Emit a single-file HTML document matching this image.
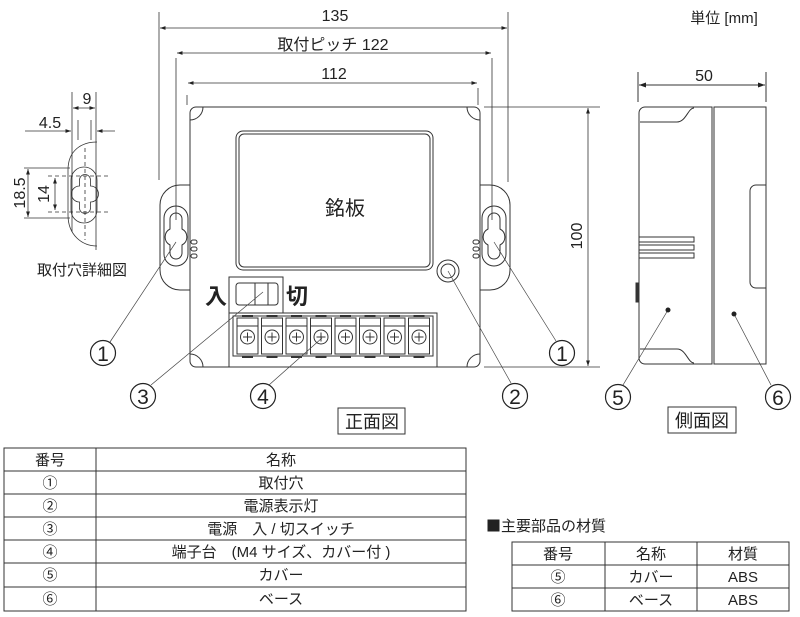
<!DOCTYPE html>
<html><head><meta charset="utf-8"><style>
html,body{margin:0;padding:0;background:#fff;}
svg{display:block;font-family:"Liberation Sans","Noto Sans CJK JP",sans-serif;}
</style></head><body>
<svg width="800" height="617" viewBox="0 0 800 617" xmlns="http://www.w3.org/2000/svg">
<defs>
<marker id="a" viewBox="0 0 10 10" refX="10" refY="5" markerWidth="7" markerHeight="7" orient="auto-start-reverse"><path d="M0,1.5 L10,5 L0,8.5z" fill="#222"/></marker>
<g id="kh">
<rect x="-12" y="-31" width="24" height="60" rx="12" fill="none" stroke="#333" stroke-width="1"/>
<path d="M-6,-18 A6,6 0 0 1 6,-18 L6,-8 A9,9 0 0 1 6,8 L6,16 A6,6 0 0 1 -6,16 L-6,8 A9,9 0 0 1 -6,-8 Z" fill="none" stroke="#333" stroke-width="1"/>
</g>
</defs>
<g stroke="#333" stroke-width="0.8" fill="none">
<line x1="159" y1="12" x2="159" y2="180"/><line x1="508" y1="12" x2="508" y2="182"/>
<line x1="160" y1="28" x2="507" y2="28" marker-start="url(#a)" marker-end="url(#a)"/>
<line x1="176" y1="58" x2="176" y2="220"/><line x1="492" y1="58" x2="492" y2="220"/>
<line x1="177" y1="53" x2="491" y2="53" marker-start="url(#a)" marker-end="url(#a)"/>
<line x1="187" y1="95" x2="187" y2="105"/><line x1="478" y1="88" x2="478" y2="105"/>
<line x1="188" y1="83" x2="477" y2="83" marker-start="url(#a)" marker-end="url(#a)"/>
<line x1="484" y1="107" x2="600" y2="107"/><line x1="484" y1="367" x2="600" y2="367"/>
<line x1="588" y1="108" x2="588" y2="366" marker-start="url(#a)" marker-end="url(#a)"/>
</g>
<g fill="#222" font-size="16" text-anchor="middle">
<text x="335" y="21">135</text>
<text x="333" y="50">取付ピッチ 122</text>
<text x="334" y="79">112</text>
<text x="724" y="23" font-size="15">単位 [mm]</text>
<text transform="translate(582,236) rotate(-90)">100</text>
<text x="704" y="81">50</text>
</g>
<g stroke="#333" stroke-width="1" fill="none">
<rect x="190" y="107" width="290" height="260" rx="6"/>
<path d="M190,120 A13,13 0 0 0 203,107"/><path d="M467,107 A13,13 0 0 0 480,120"/>
<path d="M190,354 A13,13 0 0 1 203,367"/><path d="M467,367 A13,13 0 0 1 480,354"/>
<rect x="236" y="131" width="197" height="139" rx="7"/>
<rect x="239" y="134" width="191" height="133" rx="5"/>
<path d="M190,185 L180,185 A20,20 0 0 0 160,205 L160,270 A20,20 0 0 0 180,290 L190,290"/>
<path d="M480,185 L490,185 A20,20 0 0 1 510,205 L510,270 A20,20 0 0 1 490,290 L480,290"/>
<use href="#kh" x="176" y="237"/><use href="#kh" x="494" y="237"/>
<rect x="191" y="240" width="6" height="4" rx="2"/><rect x="191" y="247" width="6" height="4" rx="2"/><rect x="191" y="254" width="6" height="4" rx="2"/>
<rect x="473" y="240" width="6" height="4" rx="2"/><rect x="473" y="247" width="6" height="4" rx="2"/><rect x="473" y="254" width="6" height="4" rx="2"/>
<circle cx="448" cy="271" r="11"/><circle cx="448" cy="271" r="7"/>
<path d="M229,313 L229,277 L283,277 L283,313"/>
<rect x="236" y="283" width="42" height="22" rx="3"/>
<line x1="255" y1="283" x2="255" y2="305"/><line x1="268" y1="283" x2="268" y2="305"/>
<rect x="229" y="313" width="208" height="54"/>
<rect x="233" y="316" width="200" height="40"/>
</g>
<g stroke="#333" stroke-width="1" fill="none">
<g id="t"><rect x="237" y="318" width="21" height="36"/><line x1="237" y1="326" x2="258" y2="326"/><circle cx="247.5" cy="337" r="7"/><path d="M243,337 h9 M247.5,332.5 v9"/><line x1="242" y1="357" x2="253" y2="357" stroke-width="2"/><line x1="242" y1="316" x2="253" y2="316" stroke-width="2"/></g>
<use href="#t" x="24.5"/><use href="#t" x="49"/><use href="#t" x="73.5"/><use href="#t" x="98"/><use href="#t" x="122.5"/><use href="#t" x="147"/><use href="#t" x="171.5"/>
</g>
<g font-size="22" font-weight="bold" fill="#222" text-anchor="middle">
<text x="216" y="304">入</text><text x="297" y="304">切</text>
</g>
<text x="345" y="215" font-size="20" text-anchor="middle" fill="#222">銘板</text>
<g stroke="#444" stroke-width="0.7" fill="none">
<line x1="176" y1="242" x2="110" y2="342"/>
<line x1="494" y1="242" x2="556" y2="341"/>
<line x1="448" y1="271" x2="511" y2="383"/>
<line x1="263" y1="292" x2="151" y2="385"/>
<line x1="322" y1="338" x2="269" y2="385"/>
<line x1="668" y1="310" x2="623" y2="385"/>
<line x1="734" y1="314" x2="771" y2="385"/>
</g>
<g stroke="#222" stroke-width="1.2" fill="#fff">
<circle cx="103" cy="353" r="12.5"/><circle cx="562" cy="353" r="12.5"/>
<circle cx="143" cy="396" r="12.5"/><circle cx="263" cy="396" r="12.5"/>
<circle cx="515" cy="396" r="12.5"/><circle cx="618" cy="397" r="12.5"/><circle cx="778" cy="397" r="12.5"/>
</g>
<g font-size="21" fill="#222" text-anchor="middle">
<text x="103" y="361">1</text><text x="562" y="361">1</text><text x="143" y="404">3</text><text x="263" y="404">4</text><text x="515" y="404">2</text><text x="618" y="405">5</text><text x="778" y="405">6</text>
</g>
<g stroke="#333" stroke-width="1" fill="none">
<line x1="638" y1="72" x2="638" y2="102"/><line x1="766" y1="72" x2="766" y2="102"/>
<line x1="639" y1="85" x2="765" y2="85" marker-start="url(#a)" marker-end="url(#a)"/>
<path d="M712,107 L645,107 A6,6 0 0 0 639,113 L639,358 A6,6 0 0 0 645,364 L712,364 Z"/>
<rect x="714" y="107" width="52" height="257"/>
<path d="M640,122 L677,122 C686,122 688,108 694,108"/>
<path d="M640,349 L677,349 C686,349 688,363 694,363"/>
<rect x="639" y="237" width="55" height="5"/><rect x="639" y="245" width="55" height="5"/><rect x="639" y="253" width="55" height="5"/>
<path d="M766,185 L756,185 A6,6 0 0 0 750,191 L750,282 A6,6 0 0 0 756,288 L766,288"/>
<rect x="636" y="283" width="2" height="19" fill="#333"/>
</g>
<circle cx="668" cy="310" r="2.5" fill="#222"/><circle cx="734" cy="314" r="2.5" fill="#222"/>
<g stroke="#333" stroke-width="1" fill="none">
<rect x="338" y="408" width="67" height="26"/><rect x="668" y="407" width="68" height="26"/>
</g>
<g font-size="18" fill="#222" text-anchor="middle">
<text x="372" y="428">正面図</text><text x="702" y="427">側面図</text>
</g>
<g stroke="#333" stroke-width="0.8" fill="none">
<line x1="72" y1="92" x2="72" y2="232"/><line x1="96" y1="92" x2="96" y2="250"/>
<line x1="78" y1="120" x2="78" y2="140"/><line x1="91" y1="120" x2="91" y2="140"/>
<line x1="73" y1="108" x2="95" y2="108" marker-start="url(#a)" marker-end="url(#a)"/>
<line x1="25" y1="131" x2="71" y2="131" marker-end="url(#a)"/>
<line x1="115" y1="131" x2="97" y2="131" marker-end="url(#a)"/>
<path d="M97,142 C82,142 68,150 68,170 L68,215 C68,235 82,246 97,246"/>
<rect x="71" y="167" width="26" height="56" rx="13"/>
<path d="M79.5,180 A5,5 0 0 1 90.5,180 L90.5,186 A8,8 0 0 1 90.5,202 L90.5,208 A5,5 0 0 1 79.5,208 L79.5,202 A8,8 0 0 1 79.5,186 Z"/>
<line x1="28" y1="169" x2="28" y2="217" marker-start="url(#a)" marker-end="url(#a)"/>
<line x1="55" y1="178" x2="55" y2="210" marker-start="url(#a)" marker-end="url(#a)"/>
<line x1="24" y1="168" x2="70" y2="168"/><line x1="24" y1="218" x2="70" y2="218"/>
<g stroke-dasharray="4,3"><line x1="48" y1="176" x2="110" y2="176"/><line x1="48" y1="212" x2="110" y2="212"/><line x1="85" y1="148" x2="85" y2="240"/></g>
</g>
<g fill="#222" font-size="16" text-anchor="middle">
<text x="87" y="104">9</text><text x="50" y="128">4.5</text>
<text transform="translate(25,193) rotate(-90)">18.5</text>
<text transform="translate(49,194) rotate(-90)">14</text>
<text x="82" y="275" font-size="15">取付穴詳細図</text>
</g>
<g stroke="#333" stroke-width="1" fill="none">
<rect x="4" y="448" width="462" height="163"/>
<line x1="96" y1="448" x2="96" y2="611"/>
<line x1="4" y1="471" x2="466" y2="471"/><line x1="4" y1="494" x2="466" y2="494"/><line x1="4" y1="517" x2="466" y2="517"/><line x1="4" y1="540" x2="466" y2="540"/><line x1="4" y1="563" x2="466" y2="563"/><line x1="4" y1="587" x2="466" y2="587"/>
</g>
<g fill="#222" font-size="15" text-anchor="middle">
<text x="50" y="465">番号</text><text x="281" y="465">名称</text>
<text x="50" y="488">①</text><text x="281" y="488">取付穴</text>
<text x="50" y="511">②</text><text x="281" y="511">電源表示灯</text>
<text x="50" y="534">③</text><text x="281" y="534">電源　入 / 切スイッチ</text>
<text x="50" y="557">④</text><text x="281" y="557">端子台　(M4 サイズ、カバー付 )</text>
<text x="50" y="580">⑤</text><text x="281" y="580">カバー</text>
<text x="50" y="604">⑥</text><text x="281" y="604">ベース</text>
</g>
<text x="486" y="531" font-size="15" fill="#222" font-family="Noto Sans CJK JP, sans-serif">■主要部品の材質</text>
<g stroke="#333" stroke-width="1" fill="none">
<rect x="512" y="542" width="277" height="69"/>
<line x1="605" y1="542" x2="605" y2="611"/><line x1="697" y1="542" x2="697" y2="611"/>
<line x1="512" y1="565" x2="789" y2="565"/><line x1="512" y1="588" x2="789" y2="588"/>
</g>
<g fill="#222" font-size="15" text-anchor="middle">
<text x="558" y="559">番号</text><text x="651" y="559">名称</text><text x="743" y="559">材質</text>
<text x="558" y="582">⑤</text><text x="651" y="582">カバー</text><text x="743" y="582">ABS</text>
<text x="558" y="605">⑥</text><text x="651" y="605">ベース</text><text x="743" y="605">ABS</text>
</g>
</svg>
</body></html>
